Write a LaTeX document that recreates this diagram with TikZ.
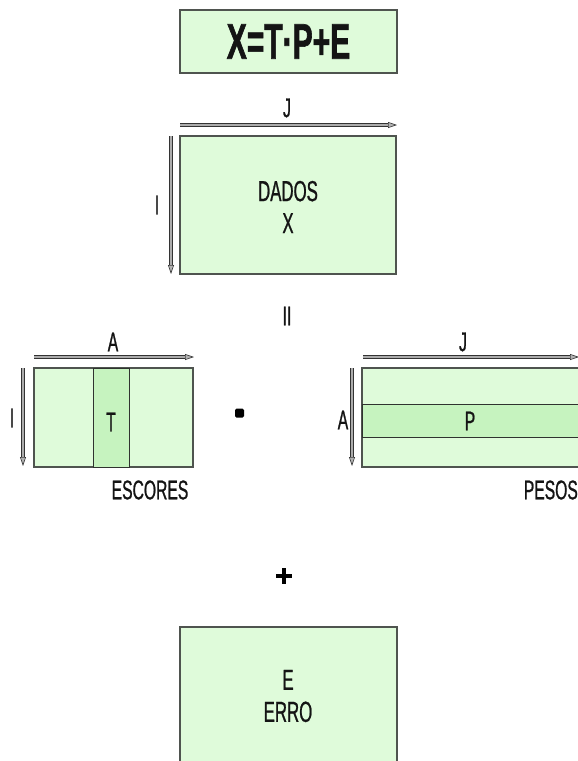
\documentclass[tikz,border=0pt]{standalone}
\usepackage{fontspec}
\newfontfamily\agency[FakeStretch=0.58,FakeBold=0.8]{Liberation Sans}
\newfontfamily\agencybold[FakeStretch=0.6,FakeBold=1.2]{Liberation Sans Bold}
\usetikzlibrary{arrows.meta}
\definecolor{lightgr}{HTML}{DFFBDA}
\definecolor{midgr}{HTML}{C6F3BF}
\definecolor{edgegr}{HTML}{4F544F}
\definecolor{txt}{HTML}{141414}
\begin{document}
\begin{tikzpicture}[x=1pt,y=-1pt,
  box/.style={draw=edgegr,line width=1.2pt,fill=lightgr,inner sep=0pt,outer sep=0pt},
  band/.style={draw=edgegr!60!black,line width=1pt,fill=midgr,inner sep=0pt,outer sep=0pt},
  lbl/.style={font=\agency\fontsize{27}{30}\selectfont,text=txt,inner sep=0pt},
  big/.style={font=\agency\fontsize{29}{33}\selectfont,text=txt,inner sep=0pt,align=center},
  dimarrow/.style={draw=black!80,line width=0.8pt,double=gray!65,double distance=1.5pt,-{Triangle[length=9pt,width=6pt,fill=gray!60,color=gray!40!black,line width=0.6pt]}}
]
\useasboundingbox (0,0) rectangle (578,761);
\clip (0,0) rectangle (578,761);
\fill[white] (0,0) rectangle (578,761);

% formula
\node[box,minimum width=217pt,minimum height=63pt,font=\agencybold\fontsize{50}{54}\selectfont,text=txt] (formula) at (288.5,41.5) {X=T·P+E};

% DADOS
\node[box,minimum width=216pt,minimum height=138pt] (dados) at (288,205) {};
\node[big] (dadostxt) at (288,207) {DADOS\\[-1pt]X};
\coordinate (dJs) at (180,125);
\coordinate (dJe) at (397,125);
\draw[dimarrow] (dJs) -- (dJe);
\node[lbl] (dJ) at (287,108) {J};
\coordinate (dIs) at (171,136);
\coordinate (dIe) at (171,274);
\draw[dimarrow] (dIs) -- (dIe);
\node[lbl] (dI) at (157,205) {I};

% equals
\node[lbl] (eq) at (287,316) {II};

% ESCORES
\node[box,minimum width=159pt,minimum height=99pt] (esc) at (113.5,417.5) {};
\node[band,minimum width=36pt,minimum height=99pt] (tcol) at (111,417.5) {};
\node[lbl] (tlbl) at (111,422) {T};
\coordinate (eAs) at (34,357);
\coordinate (eAe) at (194,357);
\draw[dimarrow] (eAs) -- (eAe);
\node[lbl] (eA) at (113,342) {A};
\coordinate (eIs) at (23,368);
\coordinate (eIe) at (23,466);
\draw[dimarrow] (eIs) -- (eIe);
\node[lbl] (eI) at (12,418) {I};
\node[lbl] (esclbl) at (150,490) {ESCORES};

% dot
\node[fill=black,rounded corners=1.5pt,minimum size=9pt,inner sep=0pt] (dot) at (239.5,413) {};

% PESOS
\node[box,minimum width=230pt,minimum height=99pt] (pes) at (477,417.5) {};
\node[band,minimum width=230pt,minimum height=33pt] (prow) at (477,420.5) {};
\node[lbl] (plbl) at (470,421) {P};
\coordinate (pJs) at (363,357);
\coordinate (pJe) at (579,357);
\draw[dimarrow] (pJs) -- (pJe);
\node[lbl] (pJ) at (463,342) {J};
\coordinate (pAs) at (352,368);
\coordinate (pAe) at (352,466);
\draw[dimarrow] (pAs) -- (pAe);
\node[lbl] (pA) at (343,420) {A};
\node[lbl,anchor=east] (peslbl) at (578,490) {PESOS};

% plus
\node[inner sep=0pt,minimum size=15pt] (plus) at (284,576) {};
\draw[black,line width=4pt] (plus.west) -- (plus.east) (plus.north) -- (plus.south);

% ERRO
\node[box,minimum width=217pt,minimum height=150pt] (erro) at (288.5,702) {};
\node[big] (errotxt) at (288,696) {E\\[-1pt]ERRO};
\end{tikzpicture}
\end{document}
